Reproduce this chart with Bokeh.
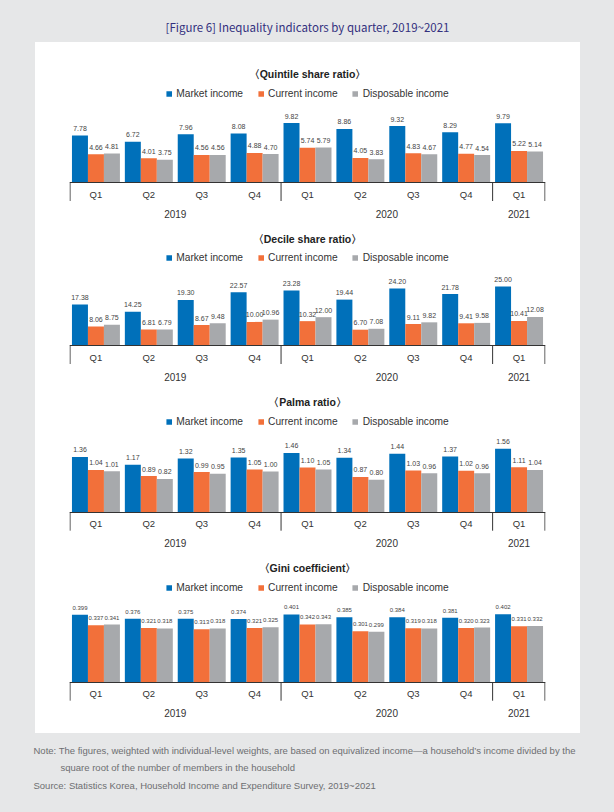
from bokeh.plotting import figure
from bokeh.models import (FactorRange, Range1d, ColumnDataSource, Legend, LegendItem,
                          Label, GlobalInlineStyleSheet)
from bokeh.layouts import column
from bokeh.transform import dodge
from bokeh.core.properties import value
from bokeh.embed import file_html
from bokeh.resources import INLINE

# ---------------- data ----------------
years = ["2019", "2019", "2019", "2019", "2020", "2020", "2020", "2020", "2021"]
quarters = ["Q1", "Q2", "Q3", "Q4", "Q1", "Q2", "Q3", "Q4", "Q1"]
series_names = ["Market income", "Current income", "Disposable income"]
series_colors = ["#0070BA", "#F2703A", "#A7A9AC"]

quintile_market = [7.78, 6.72, 7.96, 8.08, 9.82, 8.86, 9.32, 8.29, 9.79]
quintile_current = [4.66, 4.01, 4.56, 4.88, 5.74, 4.05, 4.83, 4.77, 5.22]
quintile_disposable = [4.81, 3.75, 4.56, 4.70, 5.79, 3.83, 4.67, 4.54, 5.14]

decile_market = [17.38, 14.25, 19.30, 22.57, 23.28, 19.44, 24.20, 21.78, 25.00]
decile_current = [8.06, 6.81, 8.67, 10.00, 10.32, 6.70, 9.11, 9.41, 10.41]
decile_disposable = [8.75, 6.79, 9.48, 10.96, 12.00, 7.08, 9.82, 9.58, 12.08]

palma_market = [1.36, 1.17, 1.32, 1.35, 1.46, 1.34, 1.44, 1.37, 1.56]
palma_current = [1.04, 0.89, 0.99, 1.05, 1.10, 0.87, 1.03, 1.02, 1.11]
palma_disposable = [1.01, 0.82, 0.95, 1.00, 1.05, 0.80, 0.96, 0.96, 1.04]

gini_market = [0.399, 0.376, 0.375, 0.374, 0.401, 0.385, 0.384, 0.381, 0.402]
gini_current = [0.337, 0.321, 0.313, 0.321, 0.342, 0.301, 0.319, 0.320, 0.331]
gini_disposable = [0.341, 0.318, 0.318, 0.325, 0.343, 0.299, 0.318, 0.323, 0.332]

title_text = "[Figure 6] Inequality indicators by quarter, 2019~2021"
note_line1 = ("Note: The figures, weighted with individual-level weights, are based on "
              "equivalized income\u2014a household\u2019s income divided by the")
note_line2 = "square root of the number of members in the household"
source_text = "Source: Statistics Korea, Household Income and Expenditure Survey, 2019~2021"

# ---------------- style ----------------
BG = "#E6E7E8"
TXT = "#333333"
SANS = "Liberation Sans"

PAGE_W = 612
PANEL_W = 545
FRAME_L, FRAME_R = 34, 35
BAR_W = 0.3023
SEP_PX = 18.5
SPACER = " "   # empty middle axis level, used only to open a gap between quarter and year rows


def make_panel(subtitle, series, decimals, h, base_y, sub_y, leg_y, px_per_unit, label_size):
    factors = [(y, SPACER, q) for y, q in zip(years, quarters)]
    xr = FactorRange(factors=factors, range_padding=0, factor_padding=0,
                     subgroup_padding=0, group_padding=0)
    yr = Range1d(-(h - base_y) / px_per_unit, base_y / px_per_unit)
    p = figure(width=PANEL_W, height=h, x_range=xr, y_range=yr, output_backend="svg",
               toolbar_location=None, y_axis_location=None,
               min_border_left=FRAME_L, min_border_right=FRAME_R,
               min_border_top=0, min_border_bottom=0,
               background_fill_color="white", border_fill_color="white",
               outline_line_color=None)
    p.xgrid.visible = False
    p.ygrid.visible = False

    fmt = "{:.%df}" % decimals
    data = dict(x=factors)
    for i, vals in enumerate(series):
        data["v%d" % i] = vals
        data["t%d" % i] = [fmt.format(v) for v in vals]
    src = ColumnDataSource(data)

    renderers = []
    for i, color in enumerate(series_colors):
        xs = dodge("x", (i - 1) * BAR_W, range=xr)
        r = p.vbar(x=xs, top="v%d" % i, bottom=0, width=BAR_W, source=src,
                   fill_color=color, line_color=None)
        renderers.append(r)
        p.text(x=xs, y="v%d" % i, text="t%d" % i, source=src, text_align="center",
               text_baseline="middle", y_offset=-7, text_font=value(SANS),
               text_font_size=label_size, text_color="#444444")

    # vertical lines of the axis box: both ends and the year boundaries
    d = SEP_PX / px_per_unit
    xs_sep = [factors[0] + (-0.49,)]
    for i in range(len(factors) - 1):
        if years[i] != years[i + 1]:
            xs_sep.append(factors[i] + (0.5,))
    xs_sep.append(factors[-1] + (0.49,))
    edge = ColumnDataSource(dict(x=xs_sep, y0=[0] * len(xs_sep), y1=[-d] * len(xs_sep)))
    p.segment(x0="x", y0="y0", x1="x", y1="y1", source=edge, line_color=TXT, line_width=1)

    ax = p.xaxis[0]
    ax.fixed_location = 0
    ax.axis_line_color = TXT
    ax.axis_line_width = 1
    ax.major_tick_line_color = None
    ax.minor_tick_line_color = None
    ax.major_tick_out = 5
    ax.major_label_standoff = 1
    ax.major_label_text_font = SANS
    ax.major_label_text_font_size = "9.5px"
    ax.major_label_text_color = TXT
    ax.subgroup_text_font = SANS
    ax.subgroup_text_font_size = "2px"
    ax.subgroup_text_color = TXT
    ax.group_text_font = SANS
    ax.group_text_font_size = "10px"
    ax.group_text_color = TXT
    ax.group_text_font_style = "normal"
    ax.separator_line_color = None

    legend = Legend(items=[LegendItem(label=n, renderers=[r]) for n, r in zip(series_names, renderers)],
                    orientation="horizontal", location="top_center", margin=int(round(leg_y - 6)),
                    padding=0, spacing=14, glyph_width=7, glyph_height=7, label_standoff=4,
                    label_height=12, label_text_font=SANS, label_text_font_size="10.2px",
                    label_text_color=TXT, label_text_baseline="middle",
                    background_fill_alpha=0, border_line_color=None)
    p.add_layout(legend)

    p.add_layout(Label(x=(PANEL_W - FRAME_L - FRAME_R) / 2, y=h - sub_y, x_units="screen",
                       y_units="screen", text=subtitle, text_align="center",
                       text_baseline="middle", text_font=SANS, text_font_size="10.5px",
                       text_font_style="bold", text_color="#222222"))
    return p


p1 = make_panel("\u3008Quintile share ratio\u3009",
                [quintile_market, quintile_current, quintile_disposable], 2,
                180, 140, 31, 51, 6.05, "7px")
p2 = make_panel("\u3008Decile share ratio\u3009",
                [decile_market, decile_current, decile_disposable], 2,
                165, 123, 16, 35, 2.36, "7px")
p3 = make_panel("\u3008Palma ratio\u3009",
                [palma_market, palma_current, palma_disposable], 2,
                166, 124.7, 14.7, 34.3, 40.6, "7px")
p4 = make_panel("\u3008Gini coefficient\u3009",
                [gini_market, gini_current, gini_disposable], 3,
                180, 128.7, 14.5, 34.3, 169, "6px")


def blank(h):
    f = figure(width=PAGE_W, height=h, x_range=Range1d(0, 1), y_range=Range1d(0, 1),
               output_backend="svg", toolbar_location=None, x_axis_location=None,
               y_axis_location=None, min_border=0, min_border_left=0, min_border_right=0,
               min_border_top=0, min_border_bottom=0,
               background_fill_color=BG, border_fill_color=BG,
               outline_line_color=None)
    f.grid.visible = False
    return f


hdr = blank(42)
hdr.add_layout(Label(x=307, y=16, x_units="screen", y_units="screen", text=title_text,
                     text_align="center", text_baseline="middle", text_font="Noto Sans CJK KR",
                     text_font_size="11.5px", text_color="#33307E"))

note = blank(77)
for txt, xx, yy in [(note_line1, 33, 60), (note_line2, 60, 43), (source_text, 33, 25)]:
    note.add_layout(Label(x=xx, y=yy, x_units="screen", y_units="screen", text=txt,
                          text_align="left", text_baseline="middle", text_font=SANS,
                          text_font_size="9.5px", text_color="#6D6E71"))

card = column(p1, p2, p3, p4, spacing=0, margin=(0, 0, 0, 35),
              styles={"background-color": "white"})

root = column(hdr, card, note, spacing=0,
              stylesheets=[GlobalInlineStyleSheet(css="body { background: %s; }" % BG)])

open("out.html", "w").write(file_html(root, INLINE))
